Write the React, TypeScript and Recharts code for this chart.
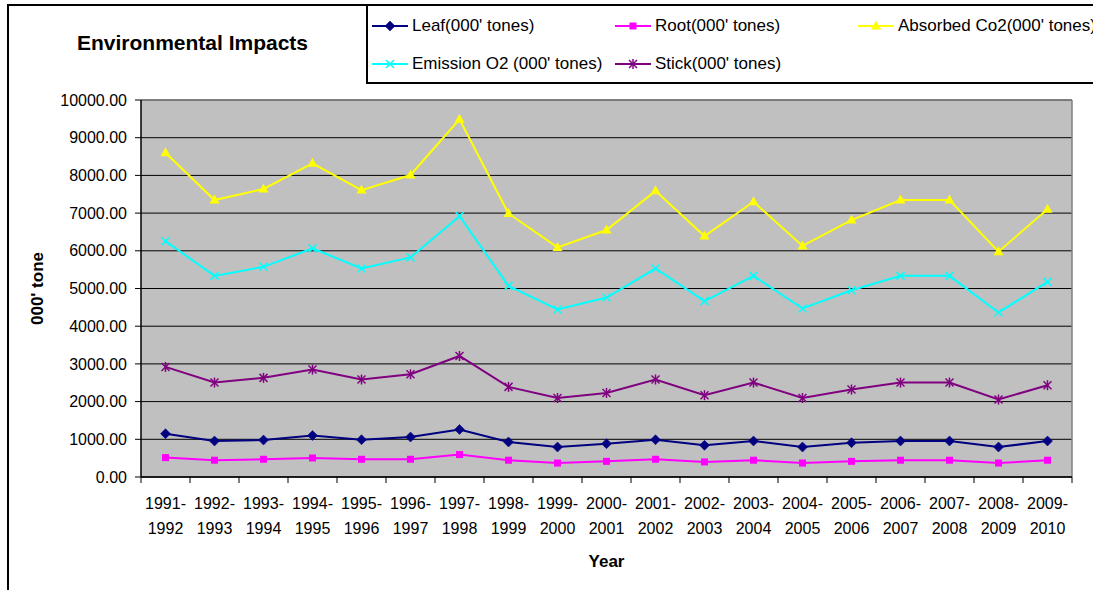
import React from 'react';
import { LineChart, Line, XAxis, YAxis, CartesianGrid, Legend } from 'recharts';

const years = [
  '1991-1992', '1992-1993', '1993-1994', '1994-1995', '1995-1996', '1996-1997', '1997-1998',
  '1998-1999', '1999-2000', '2000-2001', '2001-2002', '2002-2003', '2003-2004', '2004-2005',
  '2005-2006', '2006-2007', '2007-2008', '2008-2009', '2009-2010',
];
const leaf = [1150, 955, 980, 1100, 990, 1060, 1260, 930, 795, 885, 990, 840, 955, 795, 910, 955, 955, 795, 955];
const root = [515, 445, 470, 505, 470, 470, 595, 445, 370, 415, 470, 400, 445, 370, 415, 445, 445, 370, 445];
const absorbed = [8600, 7345, 7640, 8320, 7610, 8010, 9490, 6990, 6090, 6550, 7590, 6390, 7300, 6130, 6815, 7345, 7345, 5975, 7105];
const emission = [6255, 5335, 5575, 6065, 5530, 5825, 6920, 5070, 4445, 4760, 5530, 4665, 5335, 4470, 4955, 5335, 5335, 4365, 5175];
const stick = [2920, 2505, 2630, 2850, 2585, 2725, 3210, 2390, 2095, 2230, 2585, 2170, 2505, 2095, 2320, 2505, 2505, 2055, 2435];
const yTicks = [0, 1000, 2000, 3000, 4000, 5000, 6000, 7000, 8000, 9000, 10000];

const data = years.map((y, i) => ({
  year: y,
  leaf: leaf[i],
  root: root[i],
  absorbed: absorbed[i],
  emission: emission[i],
  stick: stick[i],
}));

const FONT = '"Liberation Sans", Arial, sans-serif';

const series = [
  { key: 'leaf', name: "Leaf(000' tones)", color: '#000080', shape: 'diamond' },
  { key: 'root', name: "Root(000' tones)", color: '#FF00FF', shape: 'square' },
  { key: 'absorbed', name: "Absorbed Co2(000' tones)", color: '#FFFF00', shape: 'triangle' },
  { key: 'emission', name: "Emission O2 (000' tones)", color: '#00FFFF', shape: 'x' },
  { key: 'stick', name: "Stick(000' tones)", color: '#800080', shape: 'star' },
];

function Marker({ shape, cx, cy, color }: { shape: string; cx: number; cy: number; color: string }) {
  switch (shape) {
    case 'diamond':
      return <polygon points={`${cx},${cy - 5} ${cx + 5},${cy} ${cx},${cy + 5} ${cx - 5},${cy}`} fill={color} stroke={color} strokeWidth={0.5} />;
    case 'square':
      return <rect x={cx - 3.5} y={cy - 3.5} width={7} height={7} fill={color} />;
    case 'triangle':
      return <polygon points={`${cx},${cy - 5.5} ${cx + 5},${cy + 3.5} ${cx - 5},${cy + 3.5}`} fill={color} />;
    case 'x':
      return (
        <g stroke={color} strokeWidth={1.5}>
          <line x1={cx - 4} y1={cy - 4} x2={cx + 4} y2={cy + 4} />
          <line x1={cx - 4} y1={cy + 4} x2={cx + 4} y2={cy - 4} />
        </g>
      );
    default:
      return (
        <g stroke={color} strokeWidth={1.5}>
          <line x1={cx - 4} y1={cy - 4} x2={cx + 4} y2={cy + 4} />
          <line x1={cx - 4} y1={cy + 4} x2={cx + 4} y2={cy - 4} />
          <line x1={cx} y1={cy - 5} x2={cx} y2={cy + 5} />
        </g>
      );
  }
}

const XTick = (props: any) => {
  const { x, y, payload, index, width, visibleTicksCount } = props;
  const half = typeof payload.offset === 'number' && payload.offset > 0 ? payload.offset : width / visibleTicksCount / 2;
  const axisY = y - 8;
  const parts = String(payload.value).split('-');
  const isLast = index === visibleTicksCount - 1;
  return (
    <g>
      <line x1={x - half} y1={axisY} x2={x - half} y2={axisY + 6} stroke="#000" />
      {isLast && <line x1={x + half} y1={axisY} x2={x + half} y2={axisY + 6} stroke="#000" />}
      <text x={x} y={axisY + 32} textAnchor="middle" fontSize={16} fontFamily={FONT} fill="#000">{parts[0] + '-'}</text>
      <text x={x} y={axisY + 57} textAnchor="middle" fontSize={16} fontFamily={FONT} fill="#000">{parts[1]}</text>
    </g>
  );
};

const LegendBox = () => (
  <div
    style={{
      position: 'relative',
      width: 800,
      height: 76,
      borderLeft: '2px solid #000',
      borderBottom: '2px solid #000',
      background: '#fff',
      fontFamily: FONT,
      fontSize: 17,
      color: '#000',
    }}
  >
    {series.map((s, i) => {
      const col = i % 3;
      const row = Math.floor(i / 3);
      return (
        <div
          key={s.key}
          style={{ position: 'absolute', left: 4 + col * 243, top: 8 + row * 38, height: 24, display: 'flex', alignItems: 'center', whiteSpace: 'nowrap' }}
        >
          <svg width={38} height={14} style={{ marginRight: 2 }}>
            <line x1={0} y1={7} x2={36} y2={7} stroke={s.color} strokeWidth={2} />
            <Marker shape={s.shape} cx={18} cy={7} color={s.color} />
          </svg>
          <span>{s.name}</span>
        </div>
      );
    })}
  </div>
);

export default function App() {
  return (
    <div style={{ position: 'absolute', left: 0, top: 0, width: 1093, height: 590, overflow: 'hidden', background: '#fff' }}>
      <div style={{ position: 'absolute', left: 7, top: 4, width: 1200, height: 700, border: '2px solid #000', boxSizing: 'border-box' }} />
      <div style={{ position: 'absolute', left: 0, top: 0 }}>
        <LineChart width={1093} height={590} data={data} margin={{ top: 100, right: 21, bottom: 0, left: 0 }}>
          <CartesianGrid fill="#C0C0C0" stroke="#000" vertical={false} strokeWidth={1} />
          <CartesianGrid
            fill="none"
            stroke="#808080"
            strokeWidth={1.5}
            horizontalCoordinatesGenerator={({ offset }: any) => [offset.top]}
            verticalCoordinatesGenerator={({ offset }: any) => [offset.left + offset.width]}
          />
          <XAxis
            dataKey="year"
            scale="band"
            height={113}
            interval={0}
            tickLine={false}
            tickSize={6}
            tickMargin={2}
            axisLine={{ stroke: '#000', strokeWidth: 1.5 }}
            tick={<XTick />}
            label={{
              content: ({ viewBox }: any) => (
                <text x={viewBox.x + viewBox.width / 2} y={viewBox.y + 90} textAnchor="middle" fontSize={17} fontWeight="bold" fontFamily={FONT} fill="#000">Year</text>
              ),
            }}
          />
          <YAxis
            width={141}
            domain={[0, 10000]}
            ticks={yTicks}
            interval={0}
            tickFormatter={(v: number) => v.toFixed(2)}
            tickSize={6}
            tickMargin={8}
            axisLine={{ stroke: '#000', strokeWidth: 1.5 }}
            tickLine={{ stroke: '#000' }}
            tick={{ fontSize: 16, fontFamily: FONT, fill: '#000' }}
            label={{
              content: ({ viewBox }: any) => {
                const cx = viewBox.x + 37;
                const cy = viewBox.y + viewBox.height / 2;
                return (
                  <text x={cx} y={cy} transform={`rotate(-90 ${cx} ${cy})`} textAnchor="middle" dominantBaseline="central" fontSize={17} fontWeight="bold" fontFamily={FONT} fill="#000">000' tone</text>
                );
              },
            }}
          />
          <Legend
            verticalAlign="middle"
            align="center"
            layout="horizontal"
            content={() => <LegendBox />}
            wrapperStyle={{ position: 'absolute', left: 366, top: 6, width: 800, height: 78, margin: 0, padding: 0 }}
          />
          {series.map((s) => (
            <Line
              key={s.key}
              dataKey={s.key}
              name={s.name}
              stroke={s.color}
              strokeWidth={2}
              isAnimationActive={false}
              dot={(p: any) => <Marker key={`${s.key}-${p.index}`} shape={s.shape} cx={p.cx} cy={p.cy} color={s.color} />}
              activeDot={false}
            />
          ))}
        </LineChart>
      </div>
      <div
        style={{
          position: 'absolute',
          left: 75,
          top: 30,
          width: 235,
          textAlign: 'center',
          fontFamily: FONT,
          fontSize: 21,
          fontWeight: 'bold',
          lineHeight: '26px',
          color: '#000',
          whiteSpace: 'nowrap',
        }}
      >
        Environmental Impacts
      </div>
    </div>
  );
}
